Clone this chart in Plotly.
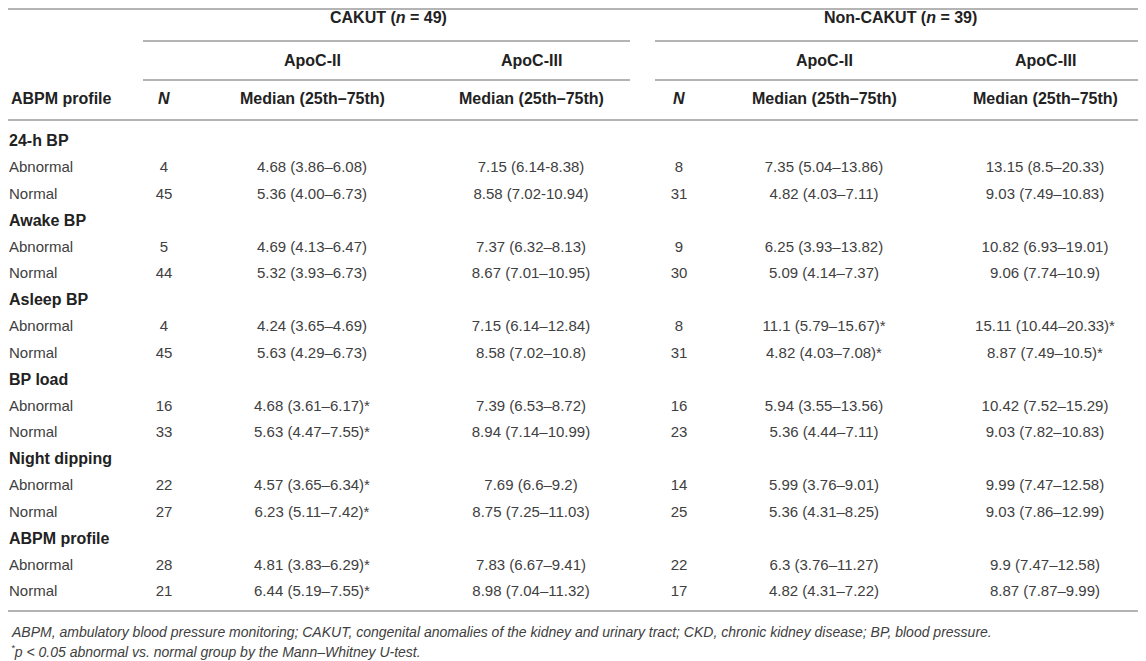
import plotly.graph_objects as go

# table content
sections = ["24-h BP", "Awake BP", "Asleep BP", "BP load", "Night dipping", "ABPM profile"]
groups = ["Abnormal", "Normal"]

cakut_n = [4, 45, 5, 44, 4, 45, 16, 33, 22, 27, 28, 21]
cakut_apoc2 = ["4.68 (3.86–6.08)", "5.36 (4.00–6.73)", "4.69 (4.13–6.47)", "5.32 (3.93–6.73)",
               "4.24 (3.65–4.69)", "5.63 (4.29–6.73)", "4.68 (3.61–6.17)*", "5.63 (4.47–7.55)*",
               "4.57 (3.65–6.34)*", "6.23 (5.11–7.42)*", "4.81 (3.83–6.29)*", "6.44 (5.19–7.55)*"]
cakut_apoc3 = ["7.15 (6.14-8.38)", "8.58 (7.02-10.94)", "7.37 (6.32–8.13)", "8.67 (7.01–10.95)",
               "7.15 (6.14–12.84)", "8.58 (7.02–10.8)", "7.39 (6.53–8.72)", "8.94 (7.14–10.99)",
               "7.69 (6.6–9.2)", "8.75 (7.25–11.03)", "7.83 (6.67–9.41)", "8.98 (7.04–11.32)"]

non_n = [8, 31, 9, 30, 8, 31, 16, 23, 14, 25, 22, 17]
non_apoc2 = ["7.35 (5.04–13.86)", "4.82 (4.03–7.11)", "6.25 (3.93–13.82)", "5.09 (4.14–7.37)",
             "11.1 (5.79–15.67)*", "4.82 (4.03–7.08)*", "5.94 (3.55–13.56)", "5.36 (4.44–7.11)",
             "5.99 (3.76–9.01)", "5.36 (4.31–8.25)", "6.3 (3.76–11.27)", "4.82 (4.31–7.22)"]
non_apoc3 = ["13.15 (8.5–20.33)", "9.03 (7.49–10.83)", "10.82 (6.93–19.01)", "9.06 (7.74–10.9)",
             "15.11 (10.44–20.33)*", "8.87 (7.49–10.5)*", "10.42 (7.52–15.29)", "9.03 (7.82–10.83)",
             "9.99 (7.47–12.58)", "9.03 (7.86–12.99)", "9.9 (7.47–12.58)", "8.87 (7.87–9.99)"]

footnotes = ["ABPM, ambulatory blood pressure monitoring; CAKUT, congenital anomalies of the kidney and urinary tract; CKD, chronic kidney disease; BP, blood pressure.",
             "<sup>*</sup>p < 0.05 abnormal vs. normal group by the Mann–Whitney U-test."]

W, H = 1146, 661
PAD = 8  # page body margin
BODY = "Liberation Sans, Arial, sans-serif"
BOLD = "Liberation Sans, Arial, sans-serif"
TXT = "#404040"
HEAD = "#222222"
LINE = "#b4b4b4"

# column centres
col_x = [164, 312, 531, 679, 824, 1045]

# row positions: section header then two rows each
y0, step = 142, 26.5
sec_y, row_y = [], []
k = 0
for s in sections:
    sec_y.append(y0 + k * step)
    k += 1
    for g in groups:
        row_y.append(y0 + k * step)
        k += 1

fig = go.Figure()

# section headers
fig.add_trace(go.Scatter(x=[PAD + 1] * len(sections), y=sec_y, mode="text",
                         text=["<b>%s</b>" % s for s in sections], textposition="middle right",
                         textfont=dict(family=BOLD, size=16, color=HEAD), cliponaxis=False))
# row labels
fig.add_trace(go.Scatter(x=[PAD + 1] * len(row_y), y=row_y, mode="text", text=groups * len(sections),
                         textposition="middle right", textfont=dict(family=BODY, size=15, color=TXT),
                         cliponaxis=False))

for cx, vals in zip(col_x, [cakut_n, cakut_apoc2, cakut_apoc3, non_n, non_apoc2, non_apoc3]):
    fig.add_trace(go.Scatter(x=[cx] * len(vals), y=row_y, mode="text", text=[str(v) for v in vals],
                             textposition="middle center", textfont=dict(family=BODY, size=15, color=TXT),
                             cliponaxis=False))

# header text
hdr = dict(family=BOLD, size=16, color=HEAD)
heads = [
    (388, 17, "CAKUT (<i>n</i> = 49)"), (900, 17, "Non-CAKUT (<i>n</i> = 39)"),
    (312, 60, "ApoC-II"), (531, 60, "ApoC-III"), (824, 60, "ApoC-II"), (1045, 60, "ApoC-III"),
    (164, 98, "<i>N</i>"), (312, 98, "Median (25th–75th)"), (531, 98, "Median (25th–75th)"),
    (679, 98, "<i>N</i>"), (824, 98, "Median (25th–75th)"), (1045, 98, "Median (25th–75th)"),
]
for x, y, t in heads:
    fig.add_annotation(x=x, y=y, text="<b>%s</b>" % t, showarrow=False, font=hdr, xanchor="center", yanchor="middle")
fig.add_annotation(x=PAD + 1, y=98, text="<b>ABPM profile</b>", showarrow=False, font=hdr, xanchor="left", yanchor="middle")

for i, t in enumerate(footnotes):
    fig.add_annotation(x=PAD + 1, y=632 + i * 19, text="<i>%s</i>" % t, showarrow=False, xanchor="left", yanchor="middle",
                       font=dict(family=BODY, size=14, color=TXT))

# rules
lines = [(PAD, W, PAD + 1), (143, 630, 41), (655, W, 41), (143, 630, 80), (655, W, 80),
         (PAD, W, 120), (PAD, W, 611)]
for xa, xb, y in lines:
    fig.add_shape(type="line", x0=xa, x1=xb, y0=y, y1=y, line=dict(color=LINE, width=2))

# the page adds an 8px body margin, so the axes map straight onto page pixels
fig.update_layout(
    width=W - PAD, height=H - PAD, margin=dict(l=0, r=0, t=0, b=0),
    paper_bgcolor="white", plot_bgcolor="white", showlegend=False,
    xaxis=dict(range=[PAD, W], visible=False, fixedrange=True),
    yaxis=dict(range=[H, PAD], visible=False, fixedrange=True),
)

fig.write_html("out.html")
